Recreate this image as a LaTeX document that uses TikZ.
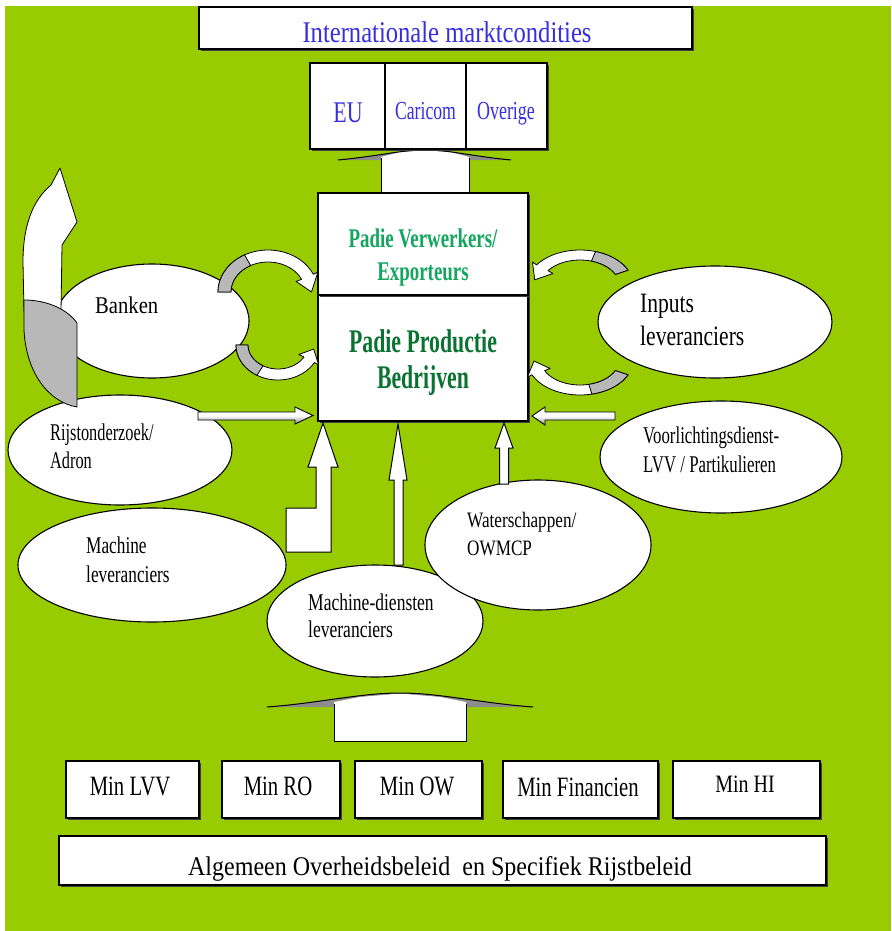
\documentclass[tikz,border=0pt]{standalone}
\usepackage{fontspec}
\setmainfont{Liberation Serif}
\usetikzlibrary{shapes.geometric,shadows}
\definecolor{bg}{RGB}{153,204,0}
\definecolor{mblue}{RGB}{55,45,225}
\definecolor{lgreen}{RGB}{20,165,95}
\definecolor{dgreen}{RGB}{10,115,50}
\newcommand\tf[3]{\fontspec[FakeStretch=#1]{Liberation Serif}\fontsize{#2}{#3}\selectfont}
\tikzset{
  box/.style={draw=black, line width=1.3pt, fill=white, inner sep=0pt,
    general shadow={fill=black!75, shadow xshift=1.6pt, shadow yshift=-1.6pt}},
  ell/.style={ellipse, draw=black, line width=1.1pt, fill=white, inner sep=0pt},
  txt/.style={inner sep=0pt, anchor=base},
  ltxt/.style={inner sep=0pt, anchor=base west},
  blockarrow/.style={draw=black, line width=1pt, fill=white, line join=miter},
  harrow/.style={draw=black, line width=0.9pt, top color=white, bottom color=black!45, middle color=white},
  rib/.style={draw=black, line width=0.8pt, fill=white, line join=round},
  ribg/.style={draw=black, line width=0.8pt, fill=black!28, line join=round}
}
\newcommand\ribbon[9]{%
  \pgfmathsetmacro\rg{#7+0.4*(#8-#7)}%
  \draw[rib] plot[smooth,domain=#7:#8,samples=24] ({#1+#3*cos(\x)},{#2+#4*sin(\x)})
    -- ({#1+(#3+5)*cos(#8)},{#2+(#4+5)*sin(#8)})
    -- ({#1+(#3+#5)/2*cos(#9)},{#2+(#4+#6)/2*sin(#9)})
    -- ({#1+(#5-6)*cos(#8)},{#2+(#6-5)*sin(#8)})
    -- plot[smooth,domain=#8:#7,samples=24] ({#1+#5*cos(\x)},{#2+#6*sin(\x)}) -- cycle;
  \draw[ribg] plot[smooth,domain=#7:\rg,samples=12] ({#1+#3*cos(\x)},{#2+#4*sin(\x)})
    -- plot[smooth,domain=\rg:#7,samples=12] ({#1+#5*cos(\x)},{#2+#6*sin(\x)}) -- cycle;
}
\begin{document}
\begin{tikzpicture}[x=1pt,y=-1pt]
\useasboundingbox (0,0) rectangle (891,931);
\fill[white] (0,0) rectangle (891,931);
\fill[bg] (5,6) rectangle (891,931);

% top boxes
\node[box, minimum width=493pt, minimum height=42pt] (intl) at (445.5,28) {};
\node[txt, font={\tf{0.82}{30}{34}}, text=mblue] (tintl) at (447,43) {Internationale marktcondities};

% export arrow
\fill[black!45] (338,160) .. controls (380,156) and (400,150) .. (425,150) .. controls (450,150) and (470,156) .. (511,160) -- cycle;
\fill[white] (381,194) -- (381,157) -- (400,152) -- (425,150.5) -- (450,152) -- (469,157) -- (469,194) -- cycle;
\draw[line width=1pt] (338,160) .. controls (380,156) and (400,150) .. (425,150) .. controls (450,150) and (470,156) .. (511,160);
\draw[line width=1pt] (381,158) -- (381,193) (469,158) -- (469,193);

\node[box, minimum width=75pt, minimum height=86pt] (eu) at (347.5,106) {};
\node[box, minimum width=81pt, minimum height=86pt] (caricom) at (425.5,106) {};
\node[box, minimum width=81pt, minimum height=86pt] (overige) at (506.5,106) {};
\node[txt, font={\tf{0.73}{30}{34}}, text=mblue] (teu) at (348,122) {EU};
\node[txt, font={\tf{0.68}{26}{30}}, text=mblue] (tcar) at (425.5,120) {Caricom};
\node[txt, font={\tf{0.69}{26}{30}}, text=mblue] (tove) at (506,120) {Overige};

% central boxes
\node[box, minimum width=210pt, minimum height=126pt] (prod) at (423,358) {};
\node[box, minimum width=210pt, minimum height=102pt] (verw) at (423,244) {};
\node[txt, font={\tf{0.7}{27}{31}\bfseries}, text=lgreen] (tverw1) at (423,247) {Padie Verwerkers/};
\node[txt, font={\tf{0.7}{27}{31}\bfseries}, text=lgreen] (tverw2) at (423,280) {Exporteurs};
\node[txt, font={\tf{0.66}{33}{36}\bfseries}, text=dgreen] (tprod1) at (423,352) {Padie Productie};
\node[txt, font={\tf{0.66}{33}{36}\bfseries}, text=dgreen] (tprod2) at (423,388) {Bedrijven};

% ellipses
\node[ell, minimum width=194pt, minimum height=114pt] (banken) at (152,321) {};
\node[ell, minimum width=234pt, minimum height=112pt] (inputs) at (715,322) {};
\node[ell, minimum width=242pt, minimum height=112pt] (voorl) at (721,457) {};
\node[ell, minimum width=224pt, minimum height=110pt] (rijst) at (120,450) {};
\node[ell, minimum width=268pt, minimum height=114pt] (mach) at (152,565) {};
\node[ell, minimum width=216pt, minimum height=112pt] (machd) at (375,621) {};
\node[ell, minimum width=226pt, minimum height=130pt] (water) at (538,545) {};

\node[ltxt, font={\tf{0.86}{24}{28}}] (tbanken) at (95,313) {Banken};
\node[ltxt, font={\tf{0.77}{28}{32}}] (tinp1) at (640,312) {Inputs};
\node[ltxt, font={\tf{0.77}{28}{32}}] (tinp2) at (640,345) {leveranciers};
\node[ltxt, font={\tf{0.7}{24}{28}}] (tvoor1) at (643,443) {Voorlichtingsdienst-};
\node[ltxt, font={\tf{0.7}{24}{28}}] (tvoor2) at (643,472) {LVV / Partikulieren};
\node[ltxt, font={\tf{0.68}{24}{28}}] (trijst1) at (50,440) {Rijstonderzoek/};
\node[ltxt, font={\tf{0.68}{24}{28}}] (trijst2) at (50,468) {Adron};
\node[ltxt, font={\tf{0.72}{24}{28}}] (tmach1) at (86,553) {Machine};
\node[ltxt, font={\tf{0.72}{24}{28}}] (tmach2) at (86,582) {leveranciers};
\node[ltxt, font={\tf{0.73}{24}{28}}] (tmachd1) at (308,610) {Machine-diensten};
\node[ltxt, font={\tf{0.73}{24}{28}}] (tmachd2) at (308,637) {leveranciers};
\node[ltxt, font={\tf{0.78}{22}{26}}] (twater1) at (467,527) {Waterschappen/};
\node[ltxt, font={\tf{0.78}{22}{26}}] (twater2) at (467,555) {OWMCP};

% big curved arrow on the left
\draw[rib] (24,312) -- (23,262) .. controls (23,225) and (33,200) .. (51,185) -- (60,168) -- (77,222) -- (62,245) -- (61,312) -- cycle;
\draw[ribg] (24,300) .. controls (48,300) and (68,310) .. (77,323) -- (77,407) .. controls (48,402) and (26,372) .. (24,330) -- cycle;

% small curved arrows
\ribbon{268}{292}{50}{42}{37}{30}{180}{335}{360}
\ribbon{278}{345}{42}{35}{30}{24}{180}{30}{8}
\ribbon{580}{285}{53}{35}{39}{25}{335}{215}{190}
\ribbon{580}{360}{53}{35}{39}{25}{25}{155}{178}

% straight block arrows
\draw[harrow] (198,412) -- (295,412) -- (295,407) -- (313,415.5) -- (295,424) -- (295,420) -- (198,420) -- cycle;
\draw[harrow] (615,412) -- (545,412) -- (545,407) -- (532,416) -- (545,425) -- (545,420) -- (615,420) -- cycle;
\draw[blockarrow] (286,508) -- (316,508) -- (316,467) -- (308,467) -- (323,423) -- (338,467) -- (331,467) -- (331,552) -- (286,552) -- cycle;
\draw[blockarrow] (394,565) -- (394,480) -- (389,480) -- (398,424) -- (407,480) -- (403,480) -- (403,565) -- cycle;
\draw[blockarrow] (499.5,484) -- (499.5,448) -- (495,448) -- (504,423) -- (513,448) -- (508.5,448) -- (508.5,484) -- cycle;

% bottom arrow
\fill[black!45] (267,707) .. controls (320,703) and (360,693) .. (400,693) .. controls (440,693) and (480,703) .. (533,707) -- cycle;
\fill[white] (334,741) -- (334,702) -- (360,697) -- (400,693.5) -- (440,697) -- (466,702) -- (466,741) -- cycle;
\draw[line width=1pt] (267,707) .. controls (320,703) and (360,693) .. (400,693) .. controls (440,693) and (480,703) .. (533,707);
\draw[line width=1pt] (334,704) -- (334,741) -- (466,741) -- (466,704);

% ministries
\node[box, minimum width=133pt, minimum height=57pt] (lvv) at (132.5,789.5) {};
\node[box, minimum width=118pt, minimum height=57pt] (ro) at (281,789.5) {};
\node[box, minimum width=127pt, minimum height=57pt] (ow) at (418.5,789.5) {};
\node[box, minimum width=155pt, minimum height=57pt] (fin) at (580.5,789.5) {};
\node[box, minimum width=147pt, minimum height=57pt] (hi) at (746.5,789.5) {};
\node[txt, font={\tf{0.74}{28}{32}}] (tlvv) at (130,795) {Min LVV};
\node[txt, font={\tf{0.74}{28}{32}}] (tro) at (278,795) {Min RO};
\node[txt, font={\tf{0.74}{28}{32}}] (tow) at (417,795) {Min OW};
\node[txt, font={\tf{0.74}{28}{32}}] (tfin) at (578,796) {Min Financien};
\node[txt, font={\tf{0.8}{25}{29}}] (thi) at (745,792) {Min HI};

\node[box, minimum width=767pt, minimum height=49pt] (alg) at (442.5,860.5) {};
\node[txt, font={\tf{0.89}{27}{31}}] (talg) at (440,875) {Algemeen Overheidsbeleid\ \ en Specifiek Rijstbeleid};
\end{tikzpicture}
\end{document}
